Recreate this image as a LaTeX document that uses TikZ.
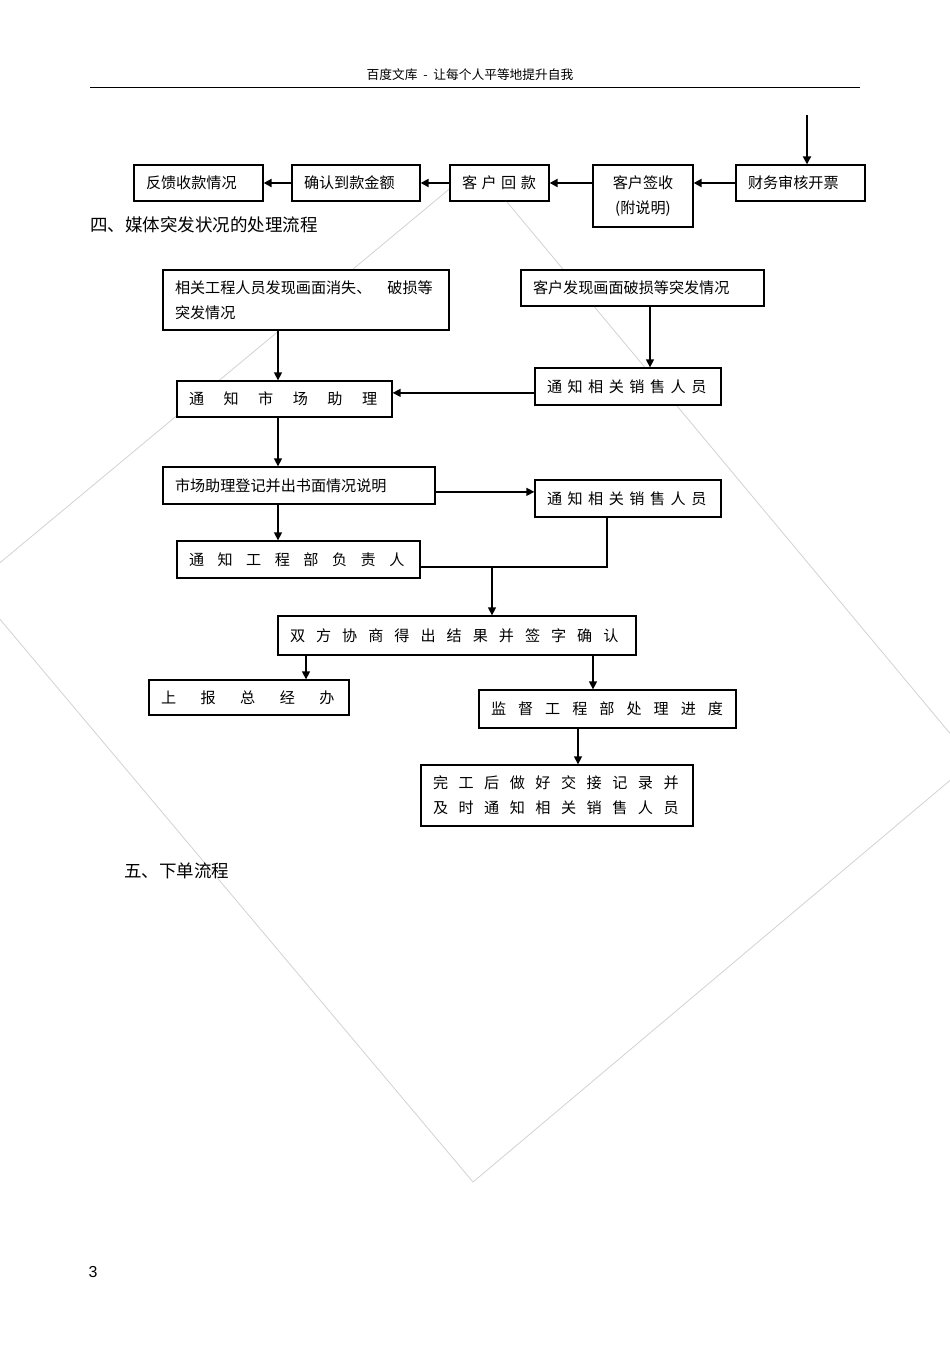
\documentclass[tikz,border=0pt]{standalone}
\usepackage{fontspec}
\setmainfont{Liberation Serif}
\newfontfamily\cjk{Noto Sans CJK SC}
\newfontfamily\arial{Liberation Sans}
\usetikzlibrary{arrows.meta}
\newdimen\px \px=0.0221cm
% characters set with a fixed gap between them
\newcommand{\spread}[2]{\foreach[count=\i] \zi in {#2}{\ifnum\i>1 \kern#1\fi\zi}}

\begin{document}
\begin{tikzpicture}[x=0.0221cm, y=-0.0221cm,
    box/.style 2 args={draw, fill=white, line width=0.8pt, text width=#1\px, minimum height=#2\px,
        inner xsep=12\px, inner ysep=0pt, align=left, font=\cjk\fontsize{9.5}{15.7}\selectfont},
    arr/.style={-{Triangle[length=5pt,width=5pt]}, line width=0.8pt},
    bigarr/.style={-{Triangle[length=5pt,width=5pt]}, line width=1.4pt},
    link/.style={line width=0.8pt},
    title/.style={anchor=west, inner sep=0pt, font=\cjk\fontsize{11}{13}\selectfont},
    wm/.style={draw=gray!35, line width=0.5pt}]
\path[use as bounding box, fill=white] (0,0) rectangle (950,1345);

% faint page watermark
\begin{scope}
  \clip (0,0) rectangle (950,1345);
  \draw[wm] (477,166) -- (973,761) -- (473,1182) -- (-28,586) -- cycle;
\end{scope}

% header
\node[inner sep=0pt, font=\cjk\fontsize{8}{10}\selectfont] (head) at (470,75) {百度文库 \ - \ 让每个人平等地提升自我};
\coordinate (hl) at (90,87);
\coordinate (hr) at (860,87);
\draw[line width=0.6pt] (hl) -- (hr);

% payment row
\node[box={105}{36}] (ret) at (198.5,183) {反馈收款情况};
\node[box={104}{36}] (conf) at (356,183) {确认到款金额};
\node[box={75}{36}] (pay) at (499.5,183) {\spread{4.5\px}{客,户,回,款}};
\node[box={76}{62}, align=center] (sign) at (643,196) {客户签收\\(附说明)};
\node[box={105}{36}] (fin) at (800.5,183) {财务审核开票};
\coordinate (src) at (807,115);
\draw[bigarr] (src) -- (src |- fin.north);
\draw[bigarr] (fin.west) -- (fin.west -| sign.east);
\draw[bigarr] (pay.east -| sign.west) -- (pay.east);
\draw[bigarr] (pay.west) -- (conf.east);
\draw[bigarr] (conf.west) -- (ret.east);

\node[title] (sec4) at (90,225) {四、媒体突发状况的处理流程};

% media incident flow
\node[box={262}{60}] (eng) at (306,300) {相关工程人员发现画面消失、\kern16\px 破损等\\突发情况};
\node[box={219}{36}] (cust) at (642.5,288) {客户发现画面破损等突发情况};
\node[box={191}{36}] (asst) at (284.5,399) {\spread{19.5\px}{通,知,市,场,助,理}};
\node[box={162}{37}] (sales1) at (628,386.5) {\spread{5.5\px}{通,知,相,关,销,售,人,员}};
\node[box={248}{37}] (reg) at (299,485.5) {市场助理登记并出书面情况说明};
\node[box={162}{37}] (sales2) at (628,498.5) {\spread{5.5\px}{通,知,相,关,销,售,人,员}};
\node[box={219}{37}] (mgr) at (298.5,559.5) {\spread{13.5\px}{通,知,工,程,部,负,责,人}};
\node[box={334}{39}] (agree) at (457,635.5) {\spread{11\px}{双,方,协,商,得,出,结,果,并,签,字,确,认}};
\node[box={176}{35}] (gm) at (249,697.5) {\spread{24.5\px}{上,报,总,经,办}};
\node[box={233}{38}] (sup) at (607.5,709) {\spread{12\px}{监,督,工,程,部,处,理,进,度}};
\node[box={248}{61}] (done) at (557,795.5) {\spread{10.5\px}{完,工,后,做,好,交,接,记,录,并}\\\spread{10.5\px}{及,时,通,知,相,关,销,售,人,员}};

\coordinate (spine) at (278,0);
\coordinate (rc) at (650,0);
\coordinate (sc) at (607,0);
\coordinate (jn) at (492,567);
\coordinate (gc) at (306,0);
\coordinate (uc) at (593,0);
\coordinate (dc) at (578,0);

\draw[arr] (eng.south -| spine) -- (asst.north -| spine);
\draw[arr] (cust.south -| rc) -- (sales1.north -| rc);
\draw[arr] ([yshift=-4pt]sales1.west) -- ([yshift=-4pt]sales1.west -| asst.east);
\draw[arr] (asst.south -| spine) -- (reg.north -| spine);
\draw[arr] ([yshift=-4pt]reg.east) -- ([yshift=-4pt]reg.east -| sales2.west);
\draw[arr] (reg.south -| spine) -- (mgr.north -| spine);
\draw[link] (mgr.east |- jn) -- (jn -| sc) -- (sales2.south -| sc);
\draw[arr] (jn) -- (agree.north -| jn);
\draw[arr] (agree.south -| gc) -- (gm.north -| gc);
\draw[arr] (agree.south -| uc) -- (sup.north -| uc);
\draw[arr] (sup.south -| dc) -- (done.north -| dc);

\node[title] (sec5) at (124,871) {五、下单流程};
\node[inner sep=0pt, font=\arial\fontsize{10}{12}\selectfont] (page) at (93,1272) {3};
\end{tikzpicture}
\end{document}
